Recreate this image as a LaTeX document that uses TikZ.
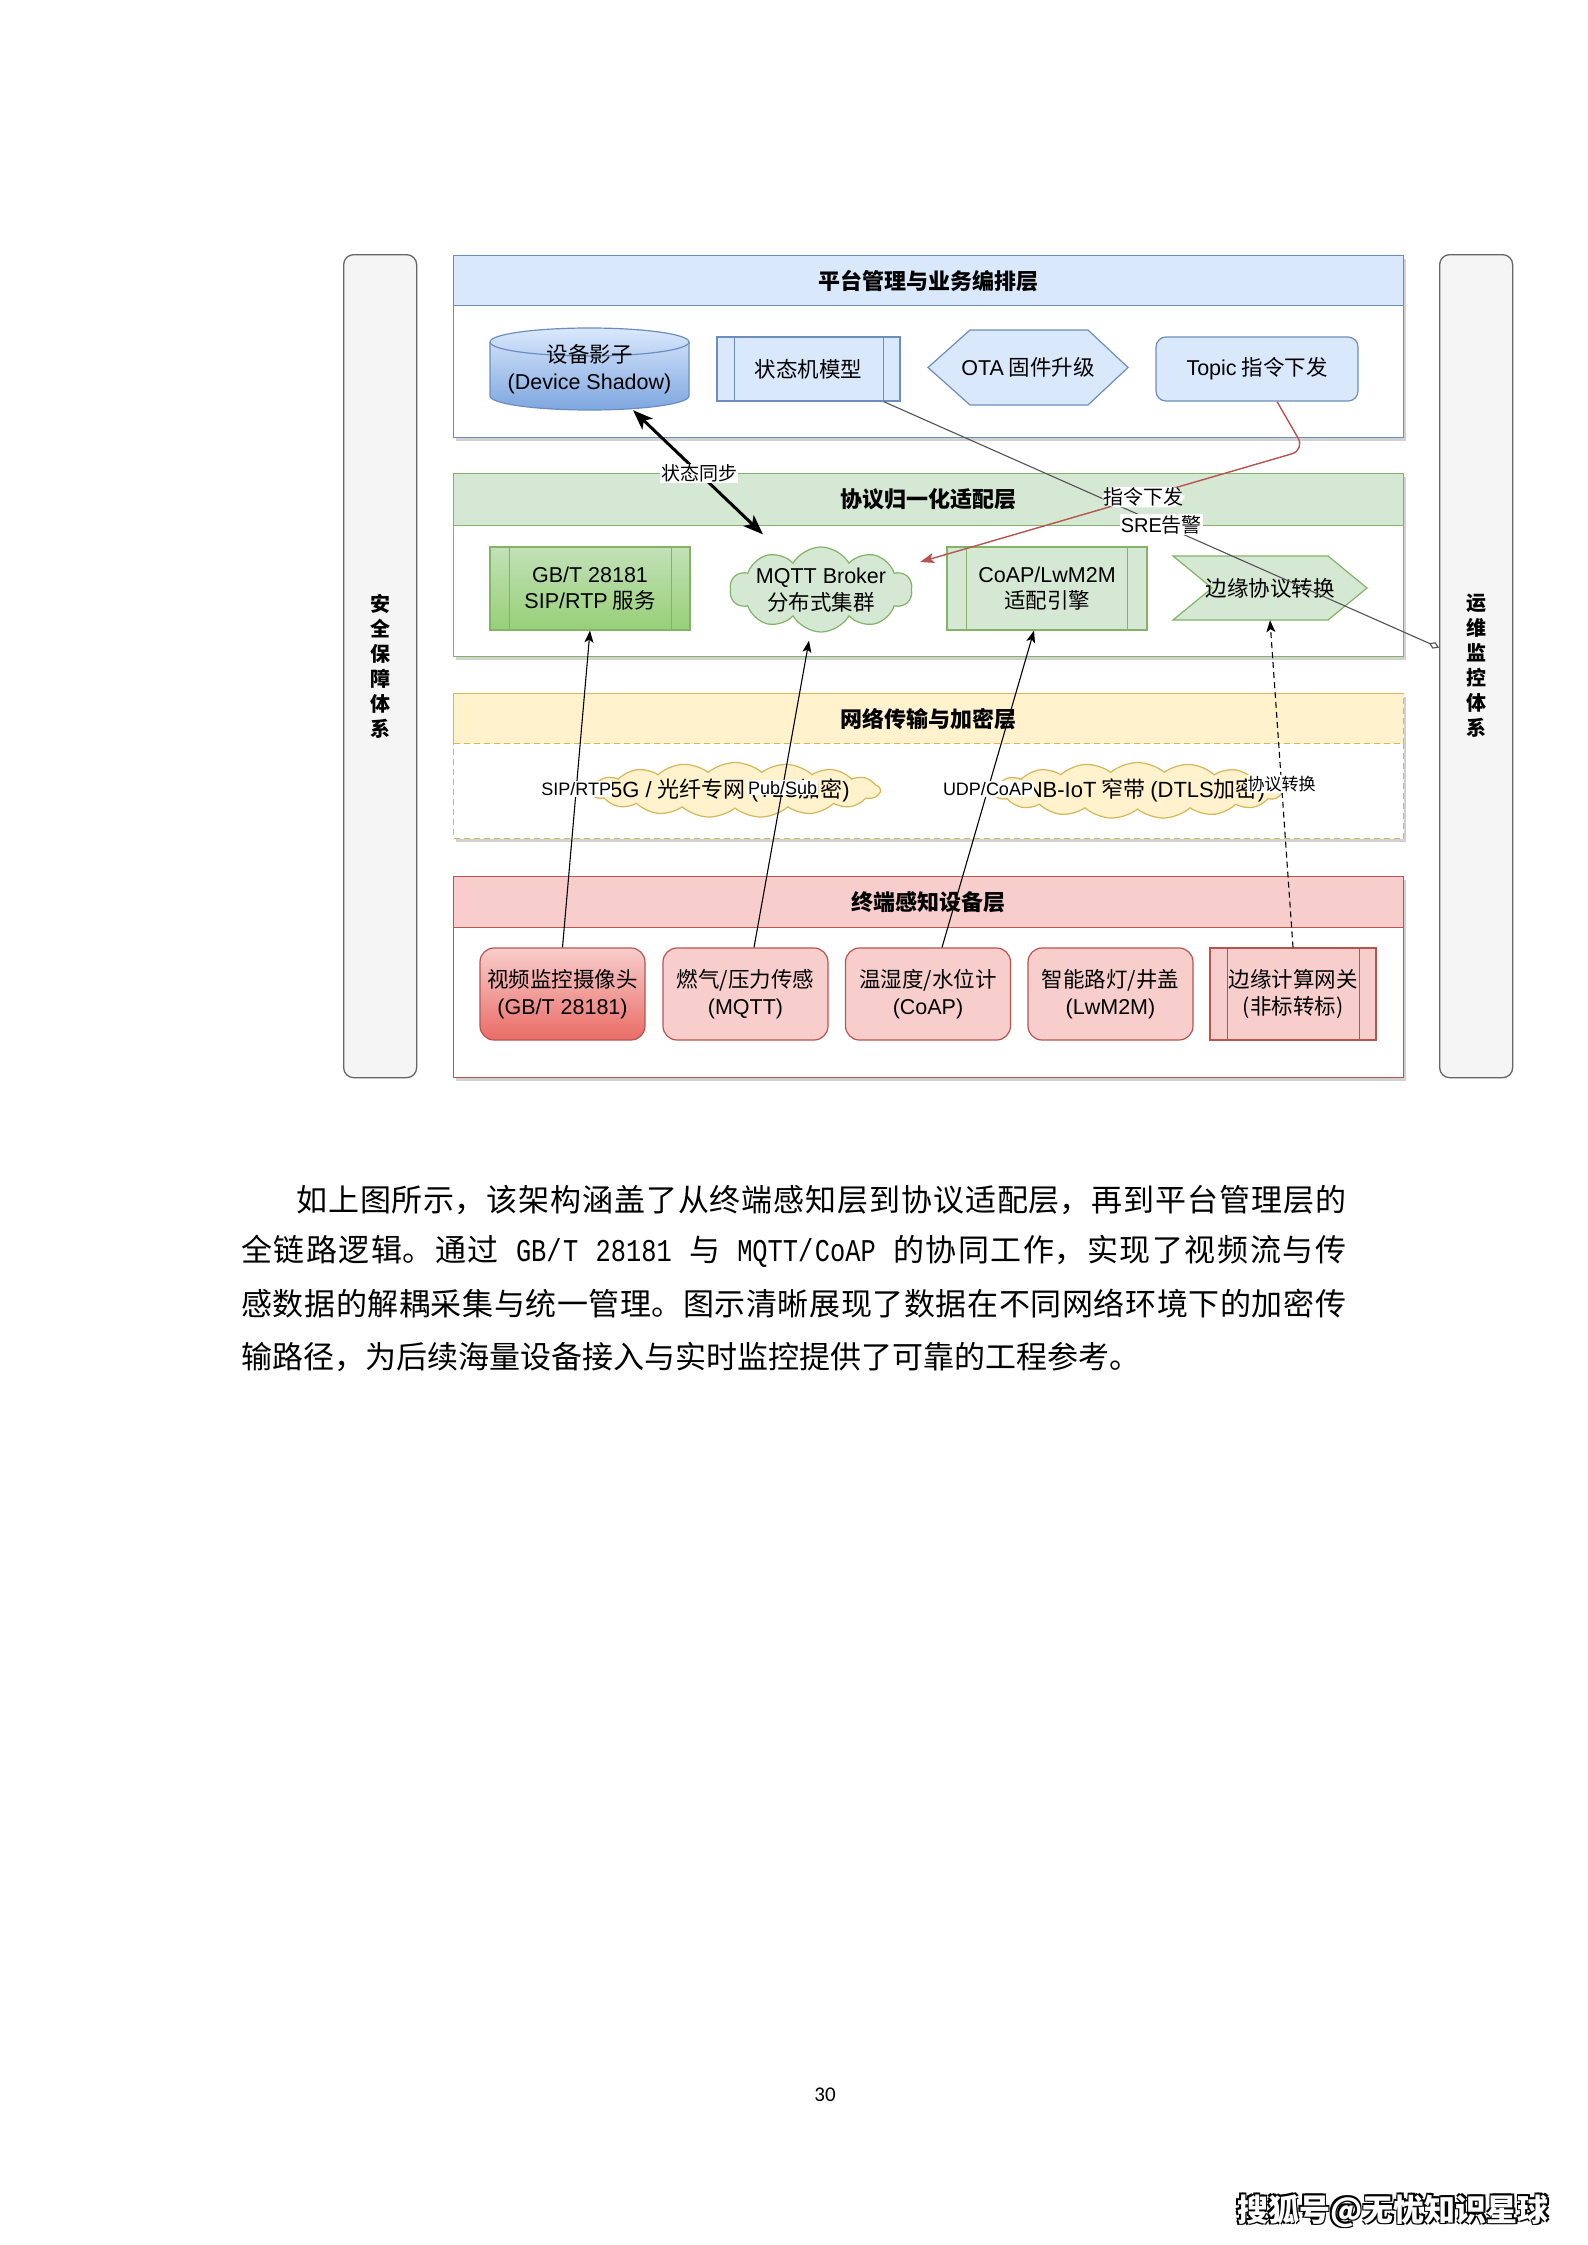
\documentclass[tikz,border=0pt]{standalone}
\usepackage{fontspec}
\setmainfont{Noto Sans CJK SC}
\newfontfamily\lat{Liberation Sans}
\newfontfamily\mono[FakeStretch=0.8]{Liberation Mono}
\newfontfamily\calib{Carlito}
\usetikzlibrary{shapes.symbols,shadows,arrows.meta}
\definecolor{bluef}{HTML}{DAE8FC}\definecolor{blued}{HTML}{6C8EBF}\definecolor{blueg}{HTML}{7EA6E0}
\definecolor{greenf}{HTML}{D5E8D4}\definecolor{greend}{HTML}{82B366}\definecolor{greeng}{HTML}{97D077}
\definecolor{yelf}{HTML}{FFF2CC}\definecolor{yeld}{HTML}{D6B656}
\definecolor{redf}{HTML}{F8CECC}\definecolor{redd}{HTML}{B85450}\definecolor{redg}{HTML}{EA6B66}
\definecolor{grayf}{HTML}{F5F5F5}\definecolor{grayd}{HTML}{666666}
\newcommand\fsz[2]{\fontsize{#1}{#2}\selectfont}
\newcommand\bodyfont{\fsz{31}{36}\XeTeXlinebreaklocale "zh"\XeTeXlinebreakskip=0pt plus 6pt\relax\hbadness=10000\relax}
\newcommand\monofont{\mono\fsz{31.7}{36}}
\tikzset{
  lay/.style={draw=#1, line width=1.3pt, fill=white, inner sep=0, anchor=north west,
    drop shadow={shadow xshift=2pt, shadow yshift=-3pt, opacity=.18, fill=black}},
  head/.style={draw=#1, line width=1.3pt, inner sep=0, anchor=north west, font=\fsz{22}{26}\bfseries},
  side/.style={draw=grayd, fill=grayf, line width=1.3pt, rounded corners=10pt, inner sep=0,
    anchor=north west, align=center, font=\fsz{20}{25}\bfseries},
  txt/.style={inner sep=0, align=center, font=\fsz{21.5}{26.5}},
  box/.style={draw=#1, line width=1.2pt, inner sep=0, align=center, font=\fsz{21.5}{26.5}},
  devbox/.style={draw=redd, line width=1.2pt, inner sep=0, align=center, rounded corners=14pt,
    minimum width=165, minimum height=92, font=\fsz{21.5}{27}},
  puff/.style={cloud, cloud ignores aspect, draw=#1, line width=1.2pt, inner sep=0},
  conn/.style={draw=black, line width=1.1pt, -{Stealth[length=12pt,width=9pt,inset=3pt]}},
  lbl/.style={fill=white, text=black, inner sep=1pt, font=\fsz{18}{20}},
}
\begin{document}
\begin{tikzpicture}[x=1pt,y=-1pt]
\useasboundingbox (0,0) rectangle (1587,2245);
\fill[white] (0,0) rectangle (1587,2245);

% side columns
\node[side, minimum width=73, minimum height=823] (sec) at (343,254) {安\\全\\保\\障\\体\\系};
\node[side, minimum width=73, minimum height=823] (ops) at (1439,254) {运\\维\\监\\控\\体\\系};

% layers
\node[lay=blued, minimum width=950, minimum height=182] (platbox) at (453,255) {};
\node[head=blued, fill=bluef, minimum width=950, minimum height=50] (plathead) at (453,255) {平台管理与业务编排层};
\node[lay=greend, minimum width=950, minimum height=183] (protbox) at (453,473) {};
\node[head=greend, fill=greenf, minimum width=950, minimum height=52] (prothead) at (453,473) {协议归一化适配层};
\node[lay=yeld, dash pattern=on 6pt off 4pt, minimum width=950, minimum height=145] (netbox) at (453,693) {};
\node[head=yeld, dash pattern=on 6pt off 4pt, fill=yelf, minimum width=950, minimum height=50] (nethead) at (453,693) {网络传输与加密层};
\node[lay=redd, minimum width=950, minimum height=201] (termbox) at (453,876) {};
\node[head=redd, fill=redf, minimum width=950, minimum height=51] (termhead) at (453,876) {终端感知设备层};

% platform layer content
\shadedraw[top color=bluef, bottom color=blueg, draw=blued, line width=1.2pt]
  (490,342) -- (490,396) arc[start angle=180, end angle=0, x radius=99.5, y radius=14]
  -- (689,342) arc[start angle=0, end angle=-180, x radius=99.5, y radius=14] -- cycle;
\draw[blued, line width=1.2pt] (490,342) arc[start angle=180, end angle=0, x radius=99.5, y radius=14];
\node[txt, minimum width=199, minimum height=82] (dev) at (589.5,369) {设备影子\\{\lat (Device Shadow)}};

\node[box=blued, fill=bluef, minimum width=183, minimum height=64] (fsm) at (808.5,369) {状态机模型};
\draw[blued, line width=1.2pt] ([xshift=18]fsm.north west) -- ([xshift=18]fsm.south west)
  ([xshift=-17]fsm.north east) -- ([xshift=-17]fsm.south east);

\draw[blued, fill=bluef, line width=1.2pt] (928,367.5) -- (970,330) -- (1088,330) -- (1128,367.5) -- (1088,405) -- (970,405) -- cycle;
\node[txt, minimum width=200, minimum height=75] (ota) at (1028,367.5) {{\lat OTA} 固件升级};

\node[box=blued, fill=bluef, rounded corners=10pt, minimum width=202, minimum height=64] (topic) at (1257,369) {{\lat Topic} 指令下发};

% protocol layer content
\node[box=greend, top color=greenf!70!greeng, bottom color=greeng, minimum width=200, minimum height=83] (gb) at (590,588.5) {{\lat GB/T 28181}\\{\lat SIP/RTP} 服务};
\draw[greend, line width=1.2pt] ([xshift=20]gb.north west) -- ([xshift=20]gb.south west)
  ([xshift=-19]gb.north east) -- ([xshift=-19]gb.south east);

\node[puff=greend, fill=greenf, cloud puffs=10, cloud puff arc=120, minimum width=182, minimum height=85] (mqtt) at (821,589.5) {};
\node[txt] (mqtttext) at (821,590) {{\lat MQTT Broker}\\分布式集群};

\node[box=greend, fill=greenf, minimum width=200, minimum height=83] (coap) at (1047,588.5) {{\lat CoAP/LwM2M}\\适配引擎};
\draw[greend, line width=1.2pt] ([xshift=20]coap.north west) -- ([xshift=20]coap.south west)
  ([xshift=-20]coap.north east) -- ([xshift=-20]coap.south east);

\draw[greend, fill=greenf, line width=1.2pt] (1173,556) -- (1328,556) -- (1367,588) -- (1328,620) -- (1173,620) -- (1212,588) -- cycle;
\node[txt, minimum width=194, minimum height=64] (edge) at (1270,588) {边缘协议转换};

% network layer content
\node[puff=yeld, fill=yelf, cloud puffs=17, cloud puff arc=80, minimum width=290, minimum height=55] (net1) at (735,790) {};
\node[txt, font=\fsz{22}{26}] (net1text) at (730,790) {{\lat 5G / }光纤专网 {\lat (TLS}加密{\lat )}};
\node[puff=yeld, fill=yelf, cloud puffs=17, cloud puff arc=80, minimum width=289, minimum height=56] (net2) at (1137.5,790.5) {};
\node[txt, font=\fsz{22}{26}] (net2text) at (1146,790) {{\lat NB-IoT} 窄带 {\lat (DTLS}加密{\lat )}};

% terminal devices
\node[devbox, top color=redf, bottom color=redg] (cam) at (562.5,994) {视频监控摄像头\\{\lat (GB/T 28181)}};
\node[devbox, fill=redf] (gas) at (745.5,994) {燃气/压力传感\\{\lat (MQTT)}};
\node[devbox, fill=redf] (temp) at (928,994) {温湿度/水位计\\{\lat (CoAP)}};
\node[devbox, fill=redf] (light) at (1110.5,994) {智能路灯/井盖\\{\lat (LwM2M)}};
\node[box=redd, fill=redf, minimum width=166, minimum height=92, font=\fsz{21.5}{27}] (gw) at (1293,994) {边缘计算网关\\(非标转标)};
\draw[redd, line width=1.2pt] ([xshift=18]gw.north west) -- ([xshift=18]gw.south west)
  ([xshift=-17]gw.north east) -- ([xshift=-17]gw.south east);

% connectors
\draw[conn] (cam.north) -- node[lbl, pos=.5] {\lat SIP/RTP} (gb.south);
\draw[conn] ([xshift=8.5]gas.north) -- node[lbl, pos=.52] {\lat Pub/Sub} ([xshift=-12,yshift=-8]mqtt.south);
\draw[conn] ([xshift=14]temp.north) -- node[lbl, pos=.5] {\lat UDP/CoAP} ([xshift=-13]coap.south);
\draw[conn, dash pattern=on 6pt off 4pt] (gw.north) -- node[lbl, font=\fsz{17}{20}, pos=.5] {协议转换} (edge.south);

\draw[line width=3pt, {Stealth[length=20pt,width=15pt,inset=5pt]}-{Stealth[length=20pt,width=15pt,inset=5pt]}]
  ([xshift=43.5]dev.south) -- node[lbl, font=\fsz{19}{22}, pos=.51] {状态同步} ([xshift=-58,yshift=12]mqtt.north);

\draw[draw=grayd!80!black, line width=1.1pt, -{Diamond[open,length=11pt,width=7pt]}]
  ([xshift=-17]fsm.south east) -- node[lbl, font=\fsz{20}{22}, pos=.5] {{\lat SRE}告警} ([yshift=18.5]ops.west);

\coordinate (rbend) at (1305,450);
\draw[redd, line width=1.4pt, rounded corners=14pt, -{Stealth[length=14pt,width=10pt,inset=3pt]}]
  ([xshift=20]topic.south) -- (rbend) -- node[lbl, font=\fsz{20}{22}, pos=.42] {指令下发} ([xshift=8,yshift=27.5]mqtt.east);

% body text
\node[anchor=west, inner sep=0] (p1) at (296,1200) {\parbox{1050pt}{\bodyfont\parfillskip=0pt 如上图所示，该架构涵盖了从终端感知层到协议适配层，再到平台管理层的}};
\node[anchor=west, inner sep=0] (p2) at (241,1251) {\parbox{1105pt}{\bodyfont\parfillskip=0pt 全链路逻辑。通过{\monofont\ GB/T 28181 }与{\monofont\ MQTT/CoAP }的协同工作，实现了视频流与传}};
\node[anchor=west, inner sep=0] (p3) at (241,1304) {\parbox{1105pt}{\bodyfont\parfillskip=0pt 感数据的解耦采集与统一管理。图示清晰展现了数据在不同网络环境下的加密传}};
\node[anchor=west, inner sep=0] (p4) at (241,1357) {\parbox{1105pt}{\bodyfont 输路径，为后续海量设备接入与实时监控提供了可靠的工程参考。}};

% page number and watermark
\node[inner sep=0] (pg) at (825,2095) {\calib\fsz{21}{24}30};
\node[inner sep=0, font=\fsz{31}{34}\bfseries, text=black] (wma) at (1394.5,2212.5) {搜狐号@无忧知识星球};
\node[inner sep=0, font=\fsz{31}{34}\bfseries, text=black] (wmb) at (1391.5,2209.5) {搜狐号@无忧知识星球};
\node[inner sep=0, font=\fsz{31}{34}\bfseries, text=black] (wmc) at (1394.5,2209.5) {搜狐号@无忧知识星球};
\node[inner sep=0, font=\fsz{31}{34}\bfseries, text=black] (wmd) at (1391.5,2212.5) {搜狐号@无忧知识星球};
\node[inner sep=0, font=\fsz{31}{34}\bfseries, text=white] (wm) at (1393,2211) {搜狐号@无忧知识星球};
\end{tikzpicture}
\end{document}
